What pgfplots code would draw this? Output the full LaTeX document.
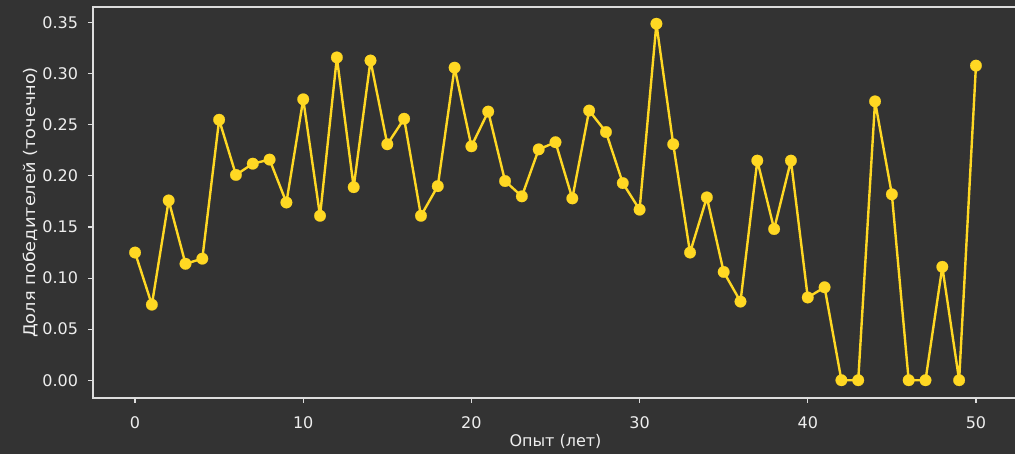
\documentclass[border=0pt]{standalone}
\usepackage{fontspec}
\setmainfont{DejaVu Sans}
\usepackage{graphicx}
\usepackage{pgfplots}
\pgfplotsset{compat=1.18}
\definecolor{bg}{HTML}{333333}
\definecolor{fg}{HTML}{EEEEEE}
\definecolor{spine}{HTML}{DDDDDD}
\definecolor{gold}{HTML}{FFD823}

\begin{document}
\begin{tikzpicture}
\fill[bg] (0,0) rectangle (1015pt,454pt);
\clip (0,0) rectangle (1015pt,454pt);
\begin{axis}[
  at={(93pt,56pt)}, anchor=south west,
  scale only axis, width=925pt, height=391pt,
  xmin=-2.5, xmax=52.5, ymin=-0.0174, ymax=0.3654,
  xtick={0,10,20,30,40,50},
  ytick={0,0.05,0.1,0.15,0.2,0.25,0.3,0.35},
  xtick pos=lower, ytick pos=left,
  tick align=outside, major tick length=5pt,
  axis line style={draw=spine, line width=1.1pt},
  tick style={draw=spine, line width=1.1pt},
  font=\fontsize{16}{19}\selectfont,
  /pgf/number format/assume math mode=true,
  ticklabel style={text=fg},
  xticklabel style={yshift=-10pt},
  yticklabel style={xshift=-6.5pt, /pgf/number format/.cd, fixed, fixed zerofill, precision=2},
  xlabel={Опыт (лет)},
  ylabel={\scalebox{1.11}[1]{Доля победителей (точечно)}},
  xlabel style={text=fg, at={(axis description cs:0.5,-0.11)}, anchor=center},
  ylabel style={text=fg, at={(axis description cs:-0.068,0.5)}, anchor=center},
]
\addplot[color=gold, line width=2.4pt, line join=round, line cap=round,
         mark=*, mark size=5.8pt,
         mark options={fill=gold, draw=gold, line width=0.2pt}]
  coordinates {
    (0,0.125) (1,0.074) (2,0.176) (3,0.114) (4,0.119)
    (5,0.255) (6,0.201) (7,0.212) (8,0.216) (9,0.174)
    (10,0.275) (11,0.161) (12,0.316) (13,0.189) (14,0.313)
    (15,0.231) (16,0.256) (17,0.161) (18,0.190) (19,0.306)
    (20,0.229) (21,0.263) (22,0.195) (23,0.180) (24,0.226)
    (25,0.233) (26,0.178) (27,0.264) (28,0.243) (29,0.193)
    (30,0.167) (31,0.349) (32,0.231) (33,0.125) (34,0.179)
    (35,0.106) (36,0.077) (37,0.215) (38,0.148) (39,0.215)
    (40,0.081) (41,0.091) (42,0) (43,0) (44,0.273)
    (45,0.182) (46,0) (47,0) (48,0.111) (49,0)
    (50,0.308)
  };
\end{axis}
\end{tikzpicture}
\end{document}
